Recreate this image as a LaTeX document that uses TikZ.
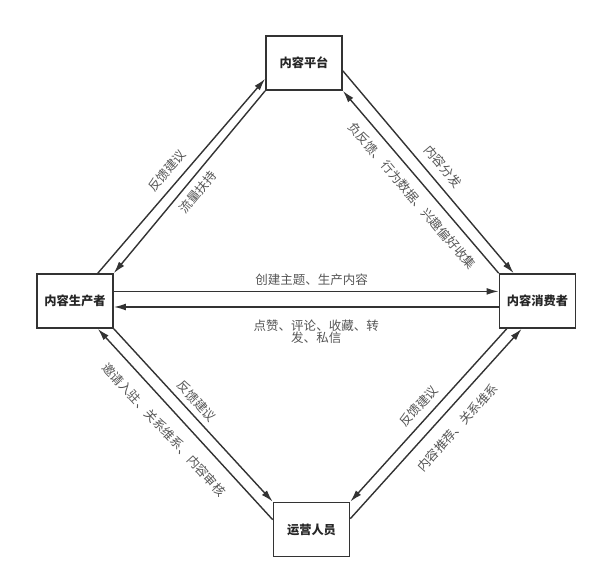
\documentclass[tikz,border=0pt]{standalone}
\usepackage{fontspec}
\setmainfont{Noto Sans CJK SC}
\usepackage{tikz}
\usetikzlibrary{positioning,arrows.meta}
\definecolor{linegray}{HTML}{333333}
\definecolor{textgray}{HTML}{555555}
\tikzstyle{block} = [draw=linegray, line width=1.2pt, rectangle, fill=white,
    minimum width=1.9cm, minimum height=1.35cm,
    font=\fontsize{8.7}{10}\selectfont\bfseries, text=black!85]
\tikzstyle{arrow} = [draw=linegray, line width=1pt, -{Latex[length=3mm,width=1.7mm]}]
\tikzstyle{lbl} = [font=\fontsize{8.9}{9}\selectfont, text=textgray, inner sep=0pt, sloped]

\begin{document}
\begin{tikzpicture}[on grid]
    \useasboundingbox (0,0) rectangle (15,-14.525);
    % We start by placing the four roles
    \node [block] (platform) at (7.6,-1.575) {内容平台};
    \node [block, below left=5.95cm and 5.725cm of platform] (producer) {内容生产者};
    \node [block, below right=5.95cm and 5.8375cm of platform] (consumer) {内容消费者};
    \node [block, below right=5.7125cm and 5.9125cm of producer] (operator) {运营人员};

    % producer and platform
    \draw [arrow] ([xshift=-0.4cm]producer.north east) -- node[lbl, pos=0.48, above=5.6pt] {反馈建议}
        ([yshift=0.3cm]platform.south west);
    \draw [arrow] (platform.south west) -- node[lbl, pos=0.51, below=4.7pt] {流量扶持}
        (producer.north east);

    % platform and consumer
    \draw [arrow] ([yshift=0.5cm]platform.south east) -- node[lbl, pos=0.52, above=6pt] {内容分发}
        ([xshift=0.375cm]consumer.north west);
    \draw [arrow] (consumer.north west) -- node[lbl, pos=0.48, below=6.4pt] {负反馈、行为数据、兴趣偏好收集}
        (platform.south east);

    % producer and consumer
    \draw [arrow] ([yshift=0.24cm]producer.east) -- node[lbl, pos=0.514, above=3.9pt] {创建主题、生产内容}
        ([yshift=0.24cm]consumer.west);
    \draw [arrow] ([yshift=-0.15cm]consumer.west) -- node[lbl, pos=0.474, below=8.4pt, align=center]
        {点赞、评论、收藏、转\\发、私信} ([yshift=-0.15cm]producer.east);

    % operator and producer
    \draw [arrow] ([yshift=-0.45cm]operator.north west) -- node[lbl, pos=0.54, below=8.9pt] {邀请入驻、关系维系、内容审核}
        ([xshift=-0.4cm]producer.south east);
    \draw [arrow] (producer.south east) -- node[lbl, pos=0.465, above=3.9pt] {反馈建议}
        (operator.north west);

    % operator and consumer
    \draw [arrow] ([xshift=0.2cm]consumer.south west) -- node[lbl, pos=0.5, above=4.9pt] {反馈建议}
        (operator.north east);
    \draw [arrow] ([yshift=-0.425cm]operator.north east) -- node[lbl, pos=0.546, below=8.5pt] {内容推荐、关系维系}
        ([xshift=0.575cm]consumer.south west);
\end{tikzpicture}
\end{document}
